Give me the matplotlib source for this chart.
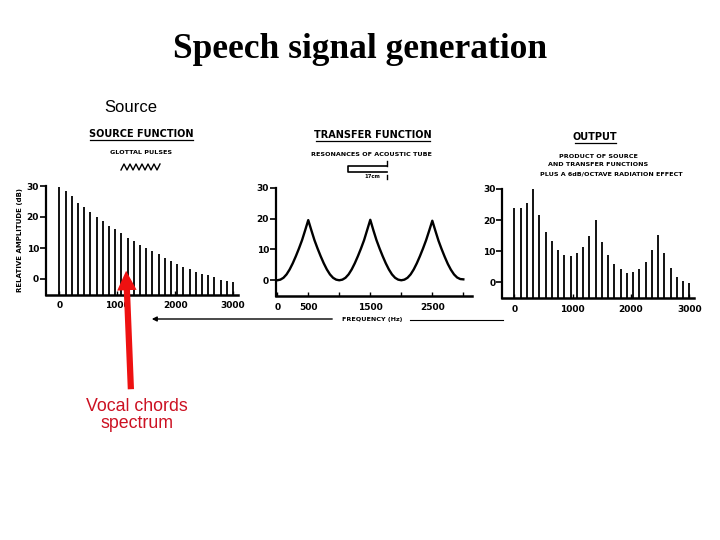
import matplotlib.pyplot as plt
import matplotlib.lines as mlines
from matplotlib.patches import FancyArrowPatch
import numpy as np

# Harmonic frequencies (Hz) shared by source and output panels
harmonic_freqs = [0, 107, 214, 321, 429, 536, 643, 750, 857, 964, 1071, 1179, 1286, 1393, 1500,
                  1607, 1714, 1821, 1929, 2036, 2143, 2250, 2357, 2464, 2571, 2679, 2786, 2893, 3000]

# Source function: glottal pulse harmonics (dB)
source_db = [29.7, 28.4, 26.8, 24.6, 23.1, 21.5, 20.0, 18.7, 17.1, 16.0, 14.7, 13.3, 12.3, 11.0, 10.1,
             9.0, 8.1, 6.9, 5.9, 4.8, 4.0, 3.1, 2.4, 1.6, 1.2, 0.5, -0.2, -0.75, -1.0]

# Output: product of source and transfer functions (dB)
output_db = [24.0, 24.0, 25.5, 29.9, 21.7, 16.1, 13.2, 10.4, 8.7, 8.5, 9.3, 11.3, 15.0, 19.9, 12.9,
             8.9, 5.8, 4.2, 3.0, 3.4, 4.3, 6.4, 10.4, 15.3, 9.3, 4.7, 1.8, 0.3, -0.3]

# Transfer function read every 50 Hz from 0 to 3000 Hz (dB)
transfer_freqs = np.arange(0, 3001, 50)
transfer_db = [0.0, 0.2, 0.8, 1.9, 3.5, 5.5, 7.8, 10.3, 13.0, 16.2, 19.5,
               16.2, 13.0, 10.3, 7.8, 5.5, 3.5, 1.9, 0.8, 0.2, 0.0,
               0.2, 0.8, 1.9, 3.5, 5.5, 7.8, 10.3, 13.0, 16.3, 19.6,
               16.2, 13.0, 10.3, 7.8, 5.5, 3.5, 1.9, 0.8, 0.2, 0.0,
               0.2, 0.8, 1.9, 3.5, 5.5, 7.8, 10.3, 13.0, 16.1, 19.3,
               16.0, 12.8, 10.1, 7.6, 5.3, 3.4, 1.9, 0.9, 0.4, 0.3]

y_ticks = [0, 10, 20, 30]
W, H = 720, 540


def px(x, y):
    return (x / W, 1 - y / H)


def box(x0, y_top, x1, y_bot):
    return [x0 / W, 1 - y_bot / H, (x1 - x0) / W, (y_bot - y_top) / H]


fig = plt.figure(figsize=(7.2, 5.4), dpi=100)
fig.patch.set_facecolor('white')

fig.text(*px(360, 50), 'Speech signal generation', ha='center', va='center',
         fontsize=25.5, fontweight='bold', family=['Liberation Serif', 'DejaVu Serif'])
fig.text(*px(131, 107), 'Source', ha='center', va='center', fontsize=12,
         family=['Liberation Sans', 'DejaVu Sans'])

tick_font = dict(fontsize=6.5, fontweight='bold')


def style_axis(ax, xlim, xticks, xlabels):
    ax.set_xlim(*xlim)
    ax.set_ylim(-5, 30)
    ax.spines['top'].set_visible(False)
    ax.spines['right'].set_visible(False)
    ax.spines['left'].set_linewidth(1.6)
    ax.spines['bottom'].set_linewidth(1.8)
    ax.set_yticks(y_ticks)
    ax.set_yticklabels([str(t) for t in y_ticks], **tick_font)
    ax.set_xticks(xticks)
    ax.set_xticklabels(xlabels, **tick_font)
    ax.tick_params(axis='y', direction='out', length=4, width=1.2, pad=1)
    ax.tick_params(axis='x', direction='in', length=3, width=1.0, pad=5)
    ax.patch.set_alpha(0)


# Source panel
ax1 = fig.add_axes(box(46, 186, 238, 294.5))
ax1.vlines(harmonic_freqs, -5, source_db, color='black', lw=1.3)
style_axis(ax1, (-230, 3086), [0, 1000, 2000, 3000], ['0', '1000', '2000', '3000'])
ax1.set_ylabel('RELATIVE AMPLITUDE (dB)', fontsize=5, fontweight='bold', labelpad=3)

# Transfer panel
ax2 = fig.add_axes(box(276, 187.7, 471.7, 295.7))
ax2.plot(transfer_freqs, transfer_db, color='black', lw=1.7)
style_axis(ax2, (-20, 3135), [0, 500, 1000, 1500, 2000, 2500, 3000],
           ['0', '500', '', '1500', '', '2500', ''])

# Output panel
ax3 = fig.add_axes(box(502.3, 189, 694, 297.7))
ax3.vlines(harmonic_freqs, -5, output_db, color='black', lw=1.3)
style_axis(ax3, (-206, 3080), [0, 1000, 2000, 3000], ['0', '1000', '2000', '3000'])

# Panel headings
head = dict(ha='center', va='center', fontweight='bold')


def heading(x, y, text, x0, x1):
    fig.text(*px(x, y), text, fontsize=7, **head)
    fig.add_artist(mlines.Line2D([x0 / W, x1 / W], [1 - (y + 6) / H] * 2,
                                 color='black', lw=0.9))


heading(141, 134, 'SOURCE FUNCTION', 90, 193)
fig.text(*px(141, 153), 'GLOTTAL PULSES', fontsize=4.6, **head)
zig_x = [121, 124, 127, 130, 133, 136, 139, 142, 145, 148, 151, 154, 157, 160]
zig_y = [170, 164, 170, 164, 170, 164, 170, 164, 170, 164, 170, 164, 170, 164]
fig.add_artist(mlines.Line2D([x / W for x in zig_x], [1 - y / H for y in zig_y],
                             color='black', lw=1.0))

heading(373, 135, 'TRANSFER FUNCTION', 316, 430)
fig.text(*px(371, 154), 'RESONANCES OF ACOUSTIC TUBE', fontsize=4.6, **head)
tube_x = [387, 348, 348, 387]
tube_y = [166, 166, 172, 172]
fig.add_artist(mlines.Line2D([x / W for x in tube_x], [1 - y / H for y in tube_y],
                             color='black', lw=1.2))
fig.add_artist(mlines.Line2D([387 / W] * 2, [1 - 161 / H, 1 - 166 / H], color='black', lw=1.0))
fig.add_artist(mlines.Line2D([387 / W] * 2, [1 - 175 / H, 1 - 179 / H], color='black', lw=1.0))
fig.text(*px(372, 177), '17cm', fontsize=3.8, **head)

heading(595, 137, 'OUTPUT', 575, 616)
fig.text(*px(598, 156), 'PRODUCT OF SOURCE', fontsize=4.6, **head)
fig.text(*px(598, 165), 'AND TRANSFER FUNCTIONS', fontsize=4.6, **head)
fig.text(*px(611, 174), 'PLUS A 6dB/OCTAVE RADIATION EFFECT', fontsize=4.6, **head)

# Frequency axis arrow
fig.add_artist(FancyArrowPatch(px(335, 319), px(149, 319), transform=fig.transFigure,
                               arrowstyle='-|>', mutation_scale=7, color='black', lw=1.0))
fig.text(*px(372, 320), 'FREQUENCY (Hz)', fontsize=4.6, **head)
fig.add_artist(mlines.Line2D([410 / W, 503 / W], [1 - 320 / H] * 2, color='black', lw=0.8))

# Red annotation arrow
fig.add_artist(FancyArrowPatch(px(131, 392), px(126, 268), transform=fig.transFigure,
                               arrowstyle='simple,head_length=1.4,head_width=1.4,tail_width=0.45',
                               mutation_scale=10, color='#ee1111', lw=0))
fig.text(*px(137, 415), 'Vocal chords\nspectrum', ha='center', va='center', fontsize=12.8,
         color='#cc1122', linespacing=1.05, family=['Liberation Sans', 'DejaVu Sans'])

plt.savefig('out.png', dpi=100)
